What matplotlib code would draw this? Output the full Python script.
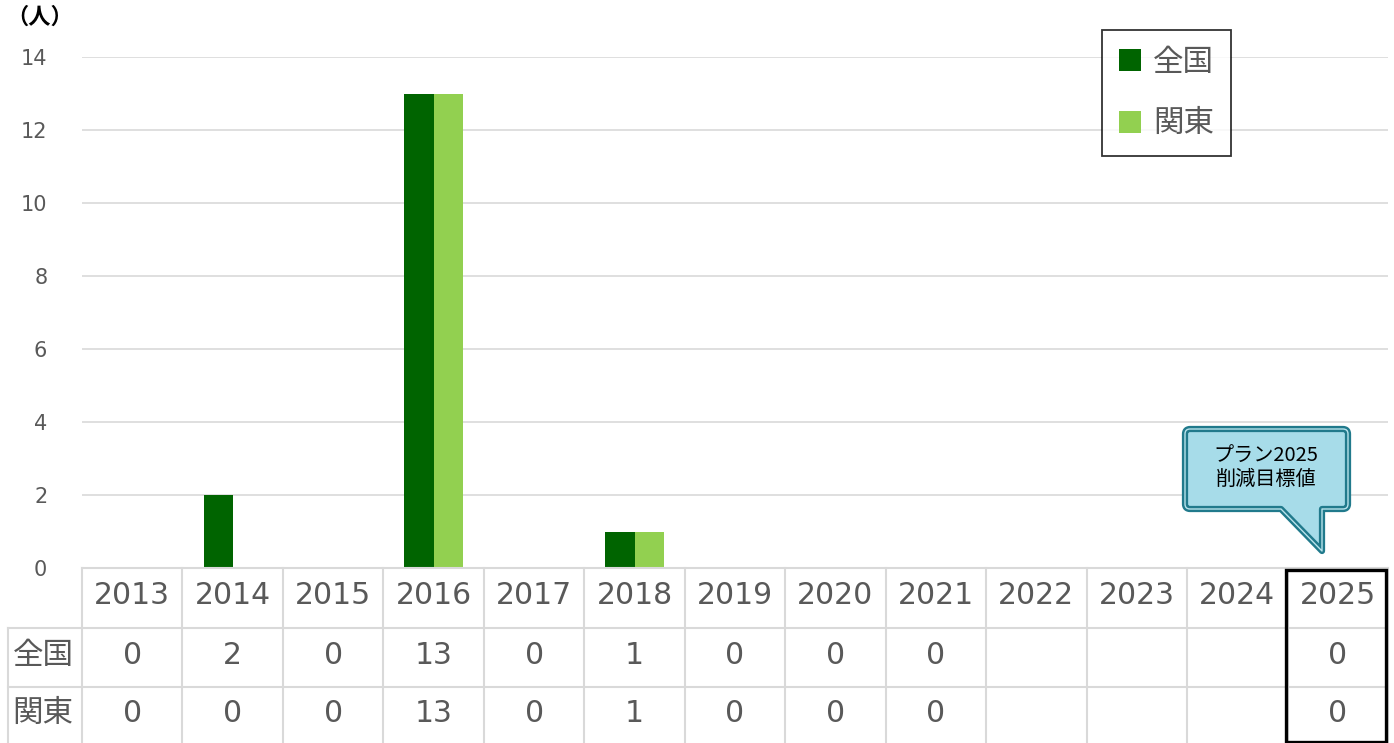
import matplotlib
matplotlib.use("Agg")
import matplotlib.pyplot as plt
import matplotlib.transforms as mtransforms
from matplotlib.patches import Rectangle, Patch, PathPatch
from matplotlib.path import Path
import numpy as np

plt.rcParams['font.family'] = ['DejaVu Sans', 'Noto Sans CJK JP']

years = ['2013', '2014', '2015', '2016', '2017', '2018', '2019', '2020',
         '2021', '2022', '2023', '2024', '2025']
zenkoku = [0, 2, 0, 13, 0, 1, 0, 0, 0, None, None, None, 0]
kanto = [0, 0, 0, 13, 0, 1, 0, 0, 0, None, None, None, 0]
series_names = ['全国', '関東']
colors = ['#006400', '#92d050']
yticks = [0, 2, 4, 6, 8, 10, 12, 14]
callout_text = 'プラン2025\n削減目標値'
unit_label = '（人）'

W, H = 1394, 743
fig = plt.figure(figsize=(W / 100, H / 100), dpi=100)

L, R, T, B = 82, 1388, 57, 568
ax = fig.add_axes([L / W, 1 - B / H, (R - L) / W, (B - T) / H])
n = len(years)
x = np.arange(n)
bw = 0.29
z_vals = [v if v is not None else 0 for v in zenkoku]
k_vals = [v if v is not None else 0 for v in kanto]
ax.bar(x - bw / 2, z_vals, width=bw, color=colors[0], zorder=3)
ax.bar(x + bw / 2, k_vals, width=bw, color=colors[1], zorder=3)
ax.set_xlim(-0.5, n - 0.5)
ax.set_ylim(0, 14)
ax.set_yticks(yticks)
ax.set_yticklabels([str(t) for t in yticks], fontsize=15, color='#595959')
ax.tick_params(axis='y', length=0, pad=25)
ax.set_xticks([])
for s in ax.spines.values():
    s.set_visible(False)
ax.grid(axis='y', color='#d9d9d9', linewidth=1.2, zorder=0)
ax.set_axisbelow(True)

# overlay in pixel coordinates
ov = fig.add_axes([0, 0, 1, 1])
ov.set_xlim(0, W)
ov.set_ylim(H, 0)
ov.axis('off')
ov.patch.set_visible(False)

bt = mtransforms.blended_transform_factory(ax.transData, ov.transData)
grid_c = '#d9d9d9'
tc = '#595959'
ov.plot([8, R], [628, 628], color=grid_c, lw=1.5)
ov.plot([8, R], [687, 687], color=grid_c, lw=1.5)
ov.plot([L, R], [568, 568], color=grid_c, lw=1.5)
ov.plot([8, 8], [628, 743], color=grid_c, lw=1.5)
for b in np.arange(n + 1) - 0.5:
    ax.plot([b, b], [568, 743], transform=bt, color=grid_c, lw=1.5, clip_on=False)

for i, yr in enumerate(years):
    ax.text(i, 596, yr, transform=bt, ha='center', va='center', fontsize=21.5, color=tc, clip_on=False)
    for vals, yc in ((zenkoku, 655), (kanto, 713)):
        if vals[i] is not None:
            ax.text(i, yc, str(vals[i]), transform=bt, ha='center', va='center',
                    fontsize=21.5, color=tc, clip_on=False)
ov.text(43, 655, series_names[0], ha='center', va='center', fontsize=22, color=tc,
        family=['Noto Sans CJK JP'])
ov.text(43, 713, series_names[1], ha='center', va='center', fontsize=22, color=tc,
        family=['Noto Sans CJK JP'])

# black box around 2025
x0 = ax.transData.transform((n - 1.5, 0))[0]
x1 = ax.transData.transform((n - 0.5, 0))[0]
ov.add_patch(Rectangle((x0 - 2, 570), (x1 - x0), 172, fill=False, edgecolor='black', lw=2.4, zorder=10))

# unit label
ov.text(40, 17, unit_label, ha='center', va='center', fontsize=16, color='black',
        family=['Noto Sans CJK JP'], fontweight='bold')

# legend
handles = [Patch(facecolor=c, edgecolor='none') for c in colors]
leg = fig.legend(handles, series_names, loc='upper left',
                 bbox_to_anchor=(1102 / W, 1 - 30 / H),
                 prop={'family': 'Noto Sans CJK JP', 'size': 22},
                 handlelength=0.72, handleheight=0.72, labelspacing=1.0,
                 handletextpad=0.4, borderpad=0.55, borderaxespad=0,
                 fancybox=False, frameon=True)
leg.get_frame().set_edgecolor('black')
leg.get_frame().set_linewidth(1.3)
for t in leg.get_texts():
    t.set_color(tc)

# callout
cx0, cx1, cy0, cy1, r = 1185, 1348, 429, 509, 5
verts = [(cx0 + r, cy0), (cx1 - r, cy0), (cx1, cy0), (cx1, cy0 + r),
         (cx1, cy1 - r), (cx1, cy1), (cx1 - r, cy1),
         (1322, cy1), (1322, 551), (1281, cy1),
         (cx0 + r, cy1), (cx0, cy1), (cx0, cy1 - r),
         (cx0, cy0 + r), (cx0, cy0), (cx0 + r, cy0), (cx0 + r, cy0)]
codes = [Path.MOVETO, Path.LINETO, Path.CURVE3, Path.CURVE3,
         Path.LINETO, Path.CURVE3, Path.CURVE3,
         Path.LINETO, Path.LINETO, Path.LINETO,
         Path.LINETO, Path.CURVE3, Path.CURVE3,
         Path.LINETO, Path.CURVE3, Path.CURVE3, Path.CLOSEPOLY]
p = Path(verts, codes)
ov.add_patch(PathPatch(p, facecolor='#a7dce9', edgecolor='#217a8c', lw=4.5, joinstyle='round', zorder=11))
ov.add_patch(PathPatch(p, facecolor='none', edgecolor='#b9e3ec', lw=1.0, joinstyle='round', zorder=12))
ov.text(1266, 468, callout_text, ha='center', va='center', fontsize=14.5, color='black',
        family=['Noto Sans CJK JP', 'DejaVu Sans'], linespacing=1.15, zorder=13)

fig.savefig('out.png', dpi=100)
